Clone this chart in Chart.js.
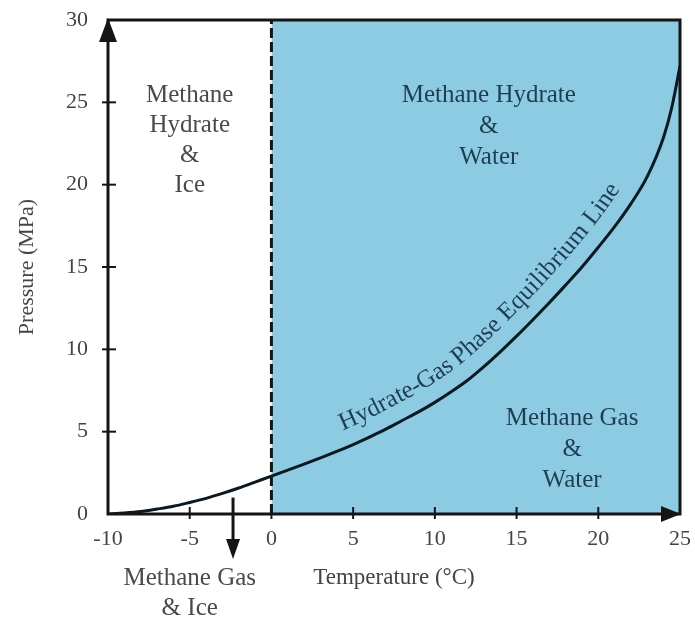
<!DOCTYPE html>
<html><head><meta charset="utf-8">
<script src="https://cdn.jsdelivr.net/npm/chart.js@4.4.1/dist/chart.umd.min.js"></script>
<style>html,body{margin:0;padding:0;background:#fff;}canvas{display:block;}</style>
</head><body>
<canvas id="c" width="695" height="619"></canvas>
<script>
// ---- data ----
const temperatures = [-10,-9,-8,-7,-6,-5,-4,-3,-2,-1,0,1,2,3,4,5,6,7,8,9,10,11,12,13,14,15,16,17,18,19,20,21,22,23,24,24.5,25];
const pressures    = [0,0.06,0.15,0.3,0.47,0.7,0.95,1.25,1.58,1.94,2.3,2.66,3.03,3.41,3.8,4.22,4.67,5.15,5.68,6.2,6.78,7.42,8.12,8.95,9.85,10.8,11.8,12.83,13.9,15.0,16.2,17.45,18.85,20.5,22.9,24.7,27.2];
const xTicks = [-10,-5,0,5,10,15,20,25];
const yTicks = [0,5,10,15,20,25,30];
const hydrateZoneT = [0,25];
const hydrateZoneP = [30,30];
const freezeLineT = [0,0];
const freezeLineP = [0,30];
const labelHydrateIce = ['Methane','Hydrate','&','Ice'];
const labelHydrateWater = ['Methane Hydrate','&','Water'];
const labelGasWater = ['Methane Gas','&','Water'];
const labelGasIce = ['Methane Gas','& Ice'];
const curveLabel = 'Hydrate-Gas Phase Equilibrium Line';
const xTitle = 'Temperature (°C)';
const yTitle = 'Pressure (MPa)';

const serif = '"Liberation Serif","Times New Roman",serif';
const INK = '#151515';
const BLUE = '#8ccbe2';

function tri(ctx, p){ctx.beginPath();ctx.moveTo(p[0][0],p[0][1]);ctx.lineTo(p[1][0],p[1][1]);ctx.lineTo(p[2][0],p[2][1]);ctx.closePath();ctx.fill();}
function lines(ctx, arr, cx, cy, lh){arr.forEach((t,i)=>ctx.fillText(t,cx,cy+i*lh));}

function curvePolyline(meta){
  const pts = meta.data, out=[];
  for(let i=0;i<pts.length-1;i++){
    const p0=pts[i], p1=pts[i+1];
    const c1x=p0.cp2x??p0.x, c1y=p0.cp2y??p0.y, c2x=p1.cp1x??p1.x, c2y=p1.cp1y??p1.y;
    for(let k=0;k<20;k++){const t=k/20,u=1-t;
      out.push({x:u*u*u*p0.x+3*u*u*t*c1x+3*u*t*t*c2x+t*t*t*p1.x,
                y:u*u*u*p0.y+3*u*u*t*c1y+3*u*t*t*c2y+t*t*t*p1.y});}
  }
  const l=pts[pts.length-1]; out.push({x:l.x,y:l.y});
  let s=0; out[0].s=0;
  for(let i=1;i<out.length;i++){s+=Math.hypot(out[i].x-out[i-1].x,out[i].y-out[i-1].y);out[i].s=s;}
  return out;
}
function at(poly,s){
  if(s<=0) return {x:poly[0].x,y:poly[0].y};
  for(let i=1;i<poly.length;i++){
    if(poly[i].s>=s){const a=poly[i-1],b=poly[i],f=(s-a.s)/((b.s-a.s)||1);return {x:a.x+(b.x-a.x)*f,y:a.y+(b.y-a.y)*f};}
  }
  const l=poly[poly.length-1]; return {x:l.x,y:l.y};
}

const decor = {
  id:'decor',
  afterDatasetsDraw(chart){
    const {ctx, chartArea:a, scales:{x,y}} = chart;
    ctx.save();
    // curve label along the equilibrium line
    const meta = chart.getDatasetMeta(0);
    const poly = curvePolyline(meta);
    const startX = x.getPixelForValue(4.8);
    let s = poly.find(p=>p.x>=startX).s;
    ctx.font = `25px ${serif}`;
    ctx.fillStyle = '#1f3d50';
    ctx.textAlign='center'; ctx.textBaseline='alphabetic';
    const off = 17;
    for(const ch of curveLabel){
      const w = ctx.measureText(ch).width;
      const sc = s + w/2;
      const p = at(poly, sc), p1 = at(poly, sc-6), p2 = at(poly, sc+6);
      const ang = Math.atan2(p2.y-p1.y, p2.x-p1.x);
      const nx = Math.sin(ang), ny = -Math.cos(ang);
      ctx.save();
      ctx.translate(p.x+nx*off, p.y+ny*off);
      ctx.rotate(ang);
      ctx.fillText(ch,0,0);
      ctx.restore();
      s += w*1.03;
    }
    // region labels
    ctx.font = `25px ${serif}`;
    ctx.textAlign='center'; ctx.textBaseline='middle';
    ctx.fillStyle = '#4a4a4a';
    lines(ctx, labelHydrateIce, x.getPixelForValue(-5), y.getPixelForValue(25.4), 30);
    ctx.fillStyle = '#1f3d50';
    lines(ctx, labelHydrateWater, x.getPixelForValue(13.3), y.getPixelForValue(25.4), 31);
    lines(ctx, labelGasWater, x.getPixelForValue(18.4), y.getPixelForValue(5.8), 31);
    ctx.fillStyle = '#4a4a4a';
    lines(ctx, labelGasIce, x.getPixelForValue(-5), a.bottom+64, 30);
    // frame
    ctx.strokeStyle = INK; ctx.fillStyle = INK; ctx.lineWidth = 3; ctx.lineJoin='miter';
    ctx.beginPath();
    ctx.moveTo(a.left,a.bottom); ctx.lineTo(a.left,a.top); ctx.lineTo(a.right,a.top); ctx.lineTo(a.right,a.bottom); ctx.closePath(); ctx.stroke();
    // tick marks
    ctx.lineWidth = 2;
    xTicks.forEach(v=>{ if(v===xTicks[0]||v===xTicks[xTicks.length-1]) return; const px=x.getPixelForValue(v);
      ctx.beginPath(); ctx.moveTo(px,a.bottom-7); ctx.lineTo(px,a.bottom+5); ctx.stroke(); });
    yTicks.forEach(v=>{ if(v===yTicks[0]||v===yTicks[yTicks.length-1]) return; const py=y.getPixelForValue(v);
      ctx.beginPath(); ctx.moveTo(a.left-6,py); ctx.lineTo(a.left+8,py); ctx.stroke(); });
    // arrowheads
    tri(ctx, [[a.left,a.top-2],[a.left-9,a.top+22],[a.left+9,a.top+22]]);
    tri(ctx, [[a.right+1,a.bottom],[a.right-19,a.bottom-8],[a.right-19,a.bottom+8]]);
    // down arrow to "Methane Gas & Ice"
    const ax = x.getPixelForValue(-2.35);
    ctx.lineWidth = 3;
    ctx.beginPath(); ctx.moveTo(ax, y.getPixelForValue(1.0)); ctx.lineTo(ax, a.bottom+30); ctx.stroke();
    tri(ctx, [[ax,a.bottom+45],[ax-7,a.bottom+25],[ax+7,a.bottom+25]]);
    ctx.restore();
  }
};

new Chart(document.getElementById('c'), {
  type:'scatter',
  data:{
    datasets:[
      { data: temperatures.map((t,i)=>({x:t,y:pressures[i]})), showLine:true, borderColor:'#0c1822', borderWidth:3,
        pointRadius:0, cubicInterpolationMode:'monotone', fill:false, order:0 },
      { data: freezeLineT.map((t,i)=>({x:t,y:freezeLineP[i]})), showLine:true, borderColor:INK, borderWidth:3,
        borderDash:[10,4], pointRadius:0, fill:false, order:1 },
      { data: hydrateZoneT.map((t,i)=>({x:t,y:hydrateZoneP[i]})), showLine:true, borderWidth:0, borderColor:'rgba(0,0,0,0)',
        backgroundColor:BLUE, pointRadius:0, fill:'origin', order:2 }
    ]
  },
  options:{
    responsive:false, animation:false, devicePixelRatio:1,
    layout:{padding:{left:0,right:15,top:20,bottom:0}},
    plugins:{legend:{display:false}, tooltip:{enabled:false}},
    scales:{
      x:{ type:'linear', min:-10, max:25,
        afterBuildTicks:s=>{s.ticks=xTicks.map(v=>({value:v}));},
        afterFit:s=>{s.height=105; s.paddingLeft=0; s.paddingRight=0;},
        grid:{display:false, drawTicks:false}, border:{display:false},
        ticks:{font:{family:serif,size:22}, color:'#444', padding:12, autoSkip:false, maxRotation:0},
        title:{display:true, text:xTitle, font:{family:serif,size:23}, color:'#444', padding:{top:0,bottom:27}} },
      y:{ type:'linear', min:0, max:30,
        afterBuildTicks:s=>{s.ticks=yTicks.map(v=>({value:v}));},
        afterFit:s=>{s.width=108; s.paddingTop=0; s.paddingBottom=0;},
        grid:{display:false, drawTicks:false}, border:{display:false},
        ticks:{font:{family:serif,size:22}, color:'#444', padding:20, autoSkip:false},
        title:{display:true, text:yTitle, font:{family:serif,size:22}, color:'#444', padding:{top:14,bottom:0}} }
    }
  },
  plugins:[decor]
});
</script>
</body></html>
